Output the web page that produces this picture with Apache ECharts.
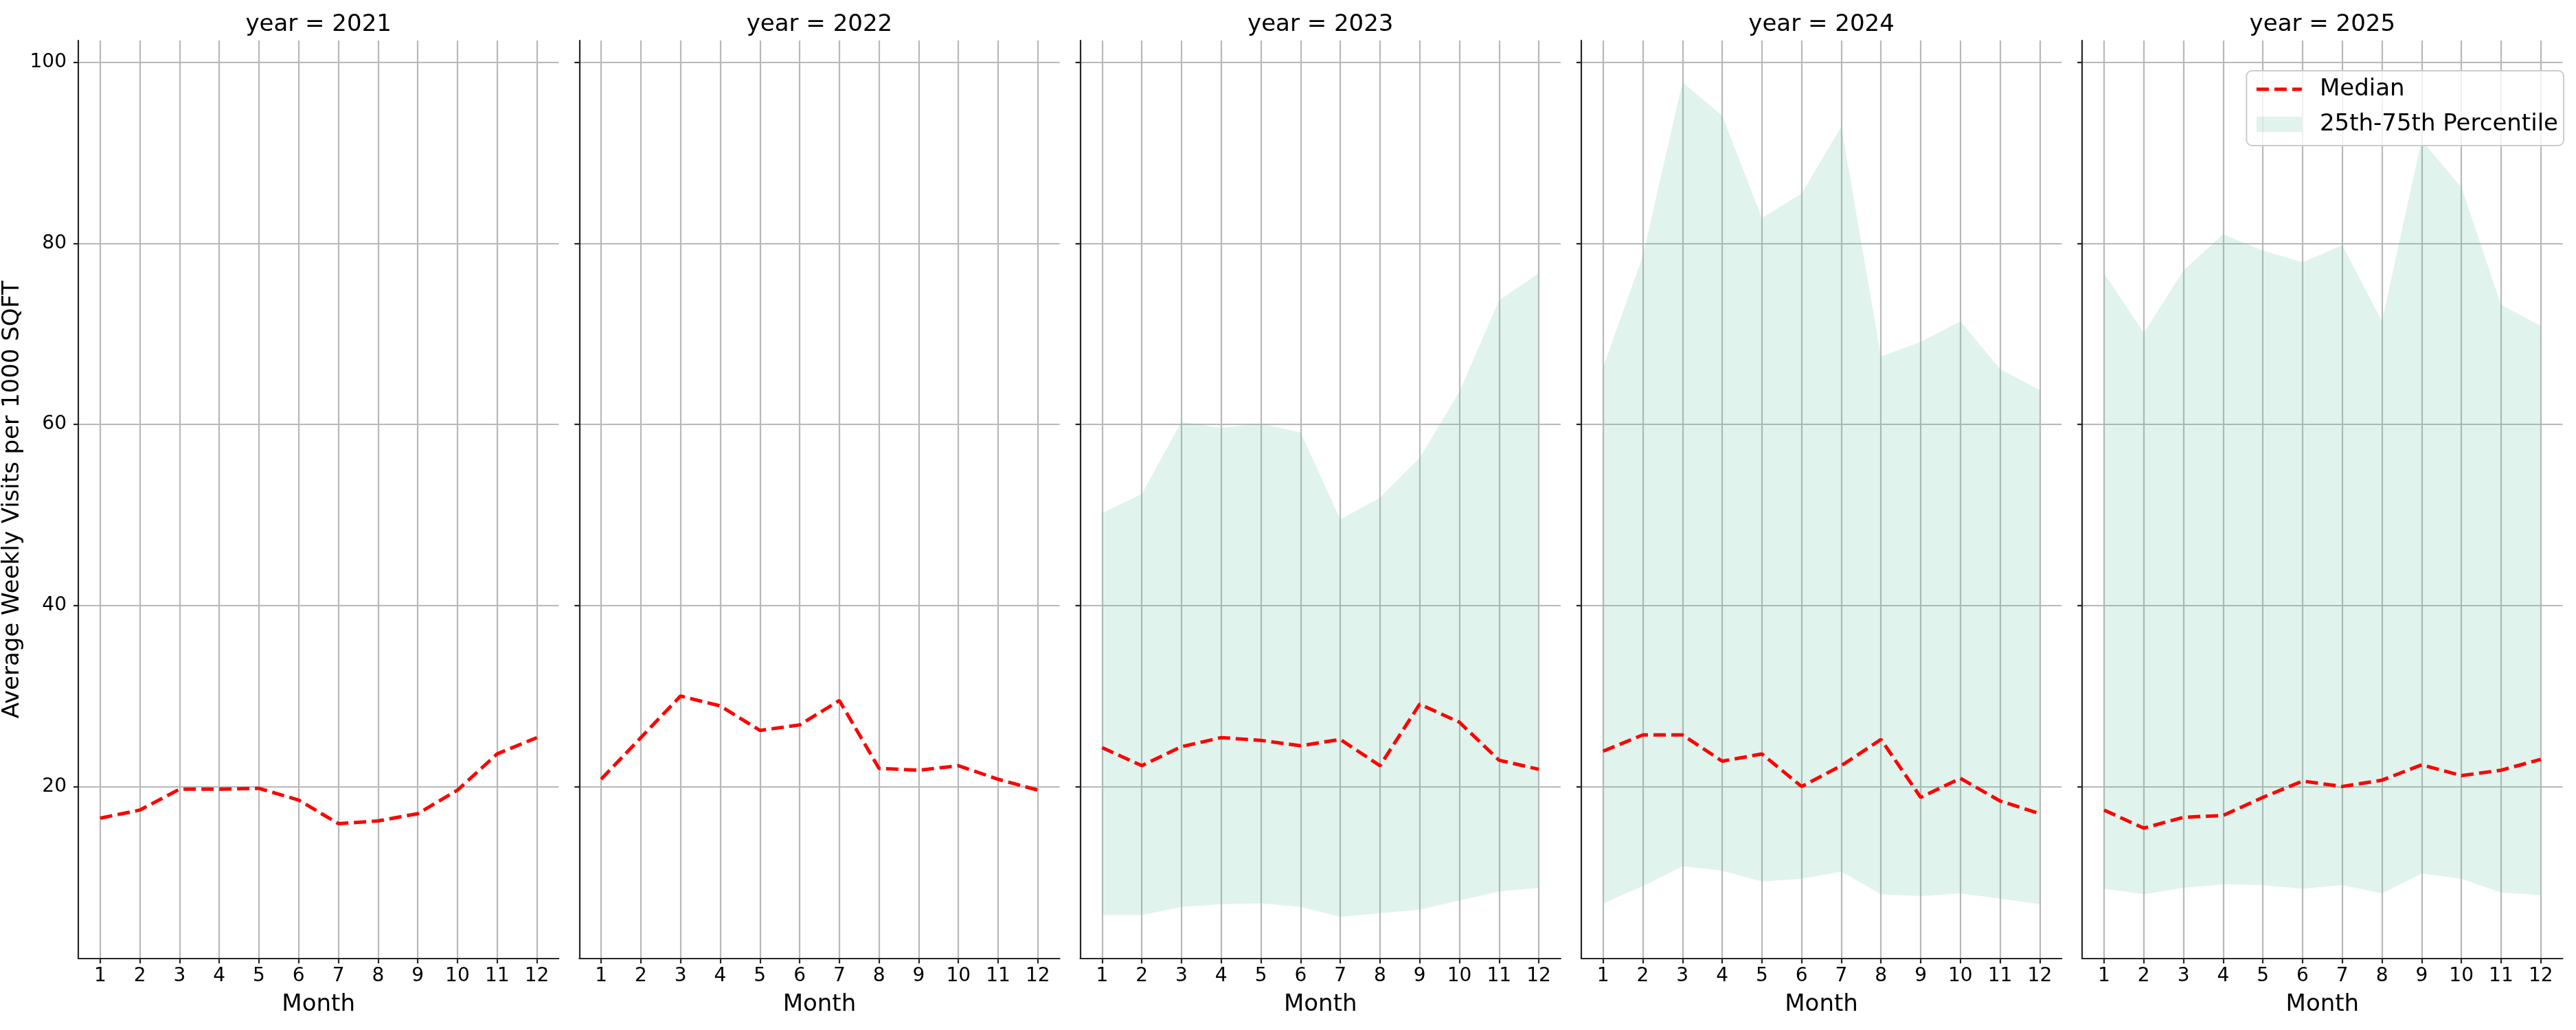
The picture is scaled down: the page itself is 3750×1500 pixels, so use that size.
<!DOCTYPE html>
<html>
<head>
<meta charset="utf-8">
<script src="https://cdn.jsdelivr.net/npm/echarts@6/dist/echarts.min.js"></script>
<style>
  html, body { margin: 0; padding: 0; background: #fff; }
  #chart { width: 3750px; height: 1500px; }
</style>
</head>
<body>
<div id="chart"></div>
<script>
// data
var months = [1, 2, 3, 4, 5, 6, 7, 8, 9, 10, 11, 12];
var years = [2021, 2022, 2023, 2024, 2025];
var yTicks = [20, 40, 60, 80, 100];

var median2021 = [16.5, 17.4, 19.7, 19.7, 19.8, 18.5, 15.9, 16.2, 17.0, 19.6, 23.6, 25.4];
var median2022 = [20.8, 25.4, 30.0, 28.9, 26.2, 26.8, 29.5, 22.0, 21.8, 22.3, 20.8, 19.6];
var median2023 = [24.3, 22.3, 24.4, 25.4, 25.1, 24.5, 25.2, 22.3, 29.1, 27.1, 22.9, 21.9];
var median2024 = [23.9, 25.7, 25.7, 22.8, 23.6, 20.0, 22.3, 25.2, 18.8, 20.9, 18.4, 17.0];
var median2025 = [17.4, 15.4, 16.6, 16.8, 18.8, 20.6, 20.0, 20.7, 22.4, 21.2, 21.8, 23.0];

var q25_2023 = [5.8, 5.8, 6.7, 7.0, 7.1, 6.7, 5.6, 6.0, 6.4, 7.4, 8.4, 8.8];
var q75_2023 = [50.2, 52.3, 60.3, 59.6, 60.1, 59.1, 49.5, 51.9, 56.3, 63.6, 73.7, 76.7];
var q25_2024 = [7.1, 9.0, 11.2, 10.7, 9.5, 9.8, 10.6, 8.1, 7.9, 8.2, 7.6, 7.0];
var q75_2024 = [66.3, 78.6, 97.8, 94.1, 82.8, 85.5, 92.9, 67.5, 69.1, 71.4, 66.1, 63.8];
var q25_2025 = [8.7, 8.1, 8.8, 9.2, 9.1, 8.7, 9.1, 8.2, 10.4, 9.8, 8.3, 8.0];
var q75_2025 = [76.7, 70.1, 77.0, 81.0, 79.2, 77.9, 79.8, 71.4, 91.4, 86.2, 73.2, 70.9];

var medians = [median2021, median2022, median2023, median2024, median2025];
var lowers = [null, null, q25_2023, q25_2024, q25_2025];
var uppers = [null, null, q75_2023, q75_2024, q75_2025];

var FONT = 'DejaVu Sans';
var BAND = 'rgba(102, 194, 165, 0.2)';
var AXIS = '#262626';
var GRID = '#b8b8b8';

var panelLeft = 114, panelStep = 729.3, panelWidth = 699.3;
var gridTop = 59, gridBottom = 104;

// matplotlib-like 5% margins
var all = [];
medians.concat(lowers, uppers).forEach(function (a) { if (a) all = all.concat(a); });
var lo = Math.min.apply(null, all), hi = Math.max.apply(null, all);
var yMin = lo - 0.05 * (hi - lo), yMax = hi + 0.05 * (hi - lo);
var xMin = months[0] - 0.05 * (months[11] - months[0]);
var xMax = months[11] + 0.05 * (months[11] - months[0]);

function bandItem(lower, upper) {
  return function (params, api) {
    if (params.dataIndex !== 0) return null;
    var pts = [];
    for (var i = 0; i < months.length; i++) pts.push(api.coord([months[i], upper[i]]));
    for (var j = months.length - 1; j >= 0; j--) pts.push(api.coord([months[j], lower[j]]));
    return { type: 'polygon', shape: { points: pts }, style: { fill: BAND } };
  };
}

var grids = [], xAxes = [], yAxes = [], titles = [], series = [];

years.forEach(function (yr, k) {
  var left = panelLeft + k * panelStep;
  grids.push({ left: left, width: panelWidth, top: gridTop, bottom: gridBottom });
  titles.push({
    text: 'year = ' + yr, left: left + panelWidth / 2, top: 19, textAlign: 'center', padding: 0,
    textStyle: { fontFamily: FONT, fontSize: 34, fontWeight: 'normal', color: '#000' }
  });
  xAxes.push({
    type: 'value', gridIndex: k, min: xMin, max: xMax,
    name: 'Month', nameLocation: 'middle', nameGap: 50,
    nameTextStyle: { fontFamily: FONT, fontSize: 34, color: '#000' },
    axisLine: { show: true, onZero: false, lineStyle: { color: AXIS, width: 2.2 } },
    axisTick: { show: true, length: 7, customValues: months, lineStyle: { color: AXIS, width: 2.2 } },
    axisLabel: { customValues: months, margin: 12, fontFamily: FONT, fontSize: 28, color: '#000' },
    splitLine: { show: true, lineStyle: { color: GRID, width: 2.2 } }
  });
  yAxes.push({
    type: 'value', gridIndex: k, min: yMin, max: yMax,
    name: k === 0 ? 'Average Weekly Visits per 1000 SQFT' : '',
    nameLocation: 'middle', nameGap: 79,
    nameTextStyle: { fontFamily: FONT, fontSize: 34, color: '#000' },
    axisLine: { show: true, onZero: false, lineStyle: { color: AXIS, width: 2.2 } },
    axisTick: { show: true, length: 7, customValues: yTicks, lineStyle: { color: AXIS, width: 2.2 } },
    axisLabel: { show: k === 0, customValues: yTicks, margin: 17, fontFamily: FONT, fontSize: 28, color: '#000' },
    splitLine: { show: true, lineStyle: { color: GRID, width: 2.2 } }
  });

  if (lowers[k]) {
    series.push({
      name: '25th-75th Percentile', type: 'custom', xAxisIndex: k, yAxisIndex: k,
      itemStyle: { color: BAND }, z: 2, silent: true,
      renderItem: bandItem(lowers[k], uppers[k]),
      encode: { x: 0, y: [1, 2] },
      data: months.map(function (m, i) { return [m, lowers[k][i], uppers[k][i]]; })
    });
  }
  series.push({
    name: 'Median', type: 'line', xAxisIndex: k, yAxisIndex: k, z: 3,
    symbol: 'none', color: '#ff0000',
    lineStyle: { color: '#ff0000', width: 5, type: [18, 8] },
    data: months.map(function (m, i) { return [m, medians[k][i]]; })
  });
});

var chart = echarts.init(document.getElementById('chart'));
chart.setOption({
  animation: false,
  backgroundColor: '#fff',
  title: titles,
  grid: grids,
  xAxis: xAxes,
  yAxis: yAxes,
  legend: {
    orient: 'vertical', right: 18, top: 103,
    padding: [10, 8, 14, 12], itemGap: 17, itemWidth: 66, itemHeight: 22,
    backgroundColor: 'rgba(255,255,255,0.8)', borderColor: '#cccccc', borderWidth: 2, borderRadius: 8,
    textStyle: { fontFamily: FONT, fontSize: 34, color: '#000', padding: [0, 0, 0, 21] },
    data: [
      {
        name: 'Median',
        itemStyle: { color: 'rgba(0,0,0,0)', borderWidth: 0 },
        lineStyle: { color: '#ff0000', width: 5, type: [18, 8] }
      },
      { name: '25th-75th Percentile', icon: 'rect' }
    ]
  },
  series: series
});
</script>
</body>
</html>
